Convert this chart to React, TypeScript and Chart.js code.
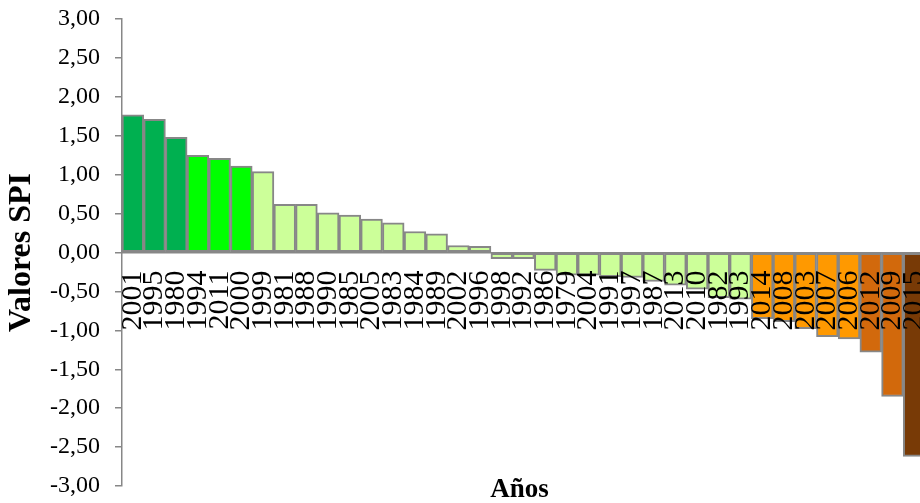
import React, { useEffect, useRef } from "react";
import { Chart, registerables } from "chart.js";

Chart.register(...registerables);

const years = [
  "2001", "1995", "1980", "1994", "2011", "2000", "1999", "1981", "1988", "1990",
  "1985", "2005", "1983", "1984", "1989", "2002", "1996", "1998", "1992", "1986",
  "1979", "2004", "1991", "1997", "1987", "2013", "2010", "1982", "1993", "2014",
  "2008", "2003", "2007", "2006", "2012", "2009", "2015",
];

const spiValues = [
  1.77, 1.71, 1.48, 1.25, 1.21, 1.11, 1.04, 0.62, 0.62, 0.51,
  0.48, 0.43, 0.38, 0.27, 0.24, 0.09, 0.08, -0.08, -0.08, -0.23,
  -0.29, -0.29, -0.31, -0.32, -0.37, -0.42, -0.47, -0.58, -0.6, -0.85,
  -0.89, -0.98, -1.08, -1.11, -1.28, -1.85, -2.62,
];

// SPI class for each bar
const spiClass = [
  "muyHumedo", "muyHumedo", "muyHumedo",
  "humedo", "humedo", "humedo",
  "normal", "normal", "normal", "normal", "normal", "normal", "normal", "normal",
  "normal", "normal", "normal", "normal", "normal", "normal", "normal", "normal",
  "normal", "normal", "normal", "normal", "normal", "normal", "normal",
  "seco", "seco", "seco", "seco", "seco",
  "muySeco", "muySeco",
  "extSeco",
];

const classColors: Record<string, string> = {
  muyHumedo: "#00B050",
  humedo: "#00FF00",
  normal: "#CCFF99",
  seco: "#FF9900",
  muySeco: "#D2690C",
  extSeco: "#783A06",
};

const yTickMin = -3;
const yTickMax = 3;
const yTickStep = 0.5;

const FONT = '"Liberation Serif", "Times New Roman", serif';

const xTitlePlugin = {
  id: "xTitle",
  afterDraw(chart: any) {
    const { ctx, chartArea } = chart;
    ctx.save();
    ctx.font = `bold 27px ${FONT}`;
    ctx.fillStyle = "#000";
    ctx.textAlign = "center";
    ctx.textBaseline = "alphabetic";
    ctx.fillText("Años", (chartArea.left + chartArea.right) / 2 - 4, chartArea.bottom + 11);
    ctx.restore();
  },
};

export default function App() {
  const ref = useRef<HTMLCanvasElement | null>(null);

  useEffect(() => {
    document.body.style.margin = "0";
    const canvas = ref.current;
    if (!canvas) return;
    const chart = new Chart(canvas, {
      type: "bar",
      data: {
        labels: years,
        datasets: [
          {
            data: spiValues,
            backgroundColor: spiClass.map((c) => classColors[c]),
            borderColor: "#878787",
            borderWidth: 2,
            borderSkipped: false,
            categoryPercentage: 1,
            barPercentage: 1,
          },
        ],
      },
      options: {
        animation: false,
        responsive: false,
        maintainAspectRatio: false,
        layout: { padding: { top: 19, bottom: 17, left: 0, right: 15 } },
        plugins: {
          legend: { display: false },
          tooltip: { enabled: false },
          title: { display: false },
        },
        scales: {
          x: {
            position: { y: 0 },
            offset: true,
            afterFit: (s: any) => {
              s.paddingLeft = 0;
              s.paddingRight = 0;
            },
            grid: { display: false, drawTicks: false },
            border: { display: true, color: "#878787", width: 1.5, z: 1 },
            ticks: {
              autoSkip: false,
              maxRotation: 90,
              minRotation: 90,
              padding: 18,
              z: 2,
              color: "#000",
              font: { family: FONT, size: 30 },
            },
          },
          y: {
            min: yTickMin,
            max: yTickMax,
            afterFit: (s: any) => {
              s.width = 122;
              s.paddingTop = 0;
              s.paddingBottom = 0;
            },
            grid: {
              drawOnChartArea: false,
              drawTicks: true,
              tickLength: 7,
              color: "#878787",
              lineWidth: 1.5,
            },
            border: { display: true, color: "#878787", width: 1.5 },
            ticks: {
              stepSize: yTickStep,
              padding: 15,
              color: "#000",
              font: { family: FONT, size: 24 },
              callback: (v: any) => Number(v).toFixed(2).replace(".", ","),
            },
            title: {
              display: true,
              text: "Valores SPI",
              color: "#000",
              font: { family: FONT, size: 32, weight: "bold" },
              padding: { top: 3, bottom: 0 },
            },
          },
        },
      },
      plugins: [xTitlePlugin],
    });
    return () => chart.destroy();
  }, []);

  return (
    <div style={{ width: 920, height: 503, overflow: "hidden", position: "relative" }}>
      <canvas ref={ref} width={940} height={503} style={{ display: "block" }} />
    </div>
  );
}
